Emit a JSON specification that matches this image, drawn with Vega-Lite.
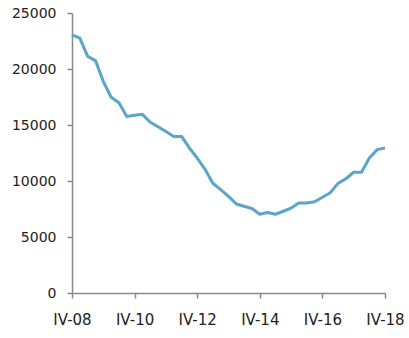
{
  "$schema": "https://vega.github.io/schema/vega-lite/v6.json",
  "width": 313,
  "height": 280,
  "autosize": {"type": "none"},
  "padding": {"left": 72, "top": 13, "right": 24, "bottom": 45},
  "background": "white",
  "config": {"view": {"stroke": null}, "font": "DejaVu Sans"},
  "data": {"values": [
    {"q": "IV-08", "v": 23050}, {"q": "I-09", "v": 22750}, {"q": "II-09", "v": 21130}, {"q": "III-09", "v": 20750},
    {"q": "IV-09", "v": 18900}, {"q": "I-10", "v": 17480}, {"q": "II-10", "v": 16980}, {"q": "III-10", "v": 15750},
    {"q": "IV-10", "v": 15870}, {"q": "I-11", "v": 15950}, {"q": "II-11", "v": 15250}, {"q": "III-11", "v": 14850},
    {"q": "IV-11", "v": 14420}, {"q": "I-12", "v": 13980}, {"q": "II-12", "v": 13980}, {"q": "III-12", "v": 12950},
    {"q": "IV-12", "v": 12050}, {"q": "I-13", "v": 11050}, {"q": "II-13", "v": 9800}, {"q": "III-13", "v": 9230},
    {"q": "IV-13", "v": 8630}, {"q": "I-14", "v": 7950}, {"q": "II-14", "v": 7750}, {"q": "III-14", "v": 7550},
    {"q": "IV-14", "v": 7030}, {"q": "I-15", "v": 7180}, {"q": "II-15", "v": 7030}, {"q": "III-15", "v": 7300},
    {"q": "IV-15", "v": 7580}, {"q": "I-16", "v": 8030}, {"q": "II-16", "v": 8030}, {"q": "III-16", "v": 8150},
    {"q": "IV-16", "v": 8550}, {"q": "I-17", "v": 8950}, {"q": "II-17", "v": 9790}, {"q": "III-17", "v": 10200},
    {"q": "IV-17", "v": 10780}, {"q": "I-18", "v": 10780}, {"q": "II-18", "v": 12050}, {"q": "III-18", "v": 12800},
    {"q": "IV-18", "v": 12950}
  ]},
  "mark": {"type": "line", "color": "#5aa5c8", "strokeWidth": 3, "strokeJoin": "round"},
  "encoding": {
    "x": {
      "field": "q", "type": "ordinal", "sort": null,
      "scale": {"type": "point", "padding": 0},
      "axis": {
        "title": null, "values": ["IV-08", "IV-10", "IV-12", "IV-14", "IV-16", "IV-18"],
        "labelAngle": 0, "labelFontSize": 15, "labelColor": "#222", "labelPadding": 14,
        "domainColor": "#8a8a8a", "domainWidth": 1.5, "tickColor": "#8a8a8a", "tickWidth": 1.5, "tickSize": 5,
        "grid": false
      }
    },
    "y": {
      "field": "v", "type": "quantitative",
      "scale": {"domain": [0, 25000], "nice": false},
      "axis": {
        "title": null, "values": [0, 5000, 10000, 15000, 20000, 25000], "format": "d",
        "labelFontSize": 14, "labelColor": "#222", "labelPadding": 11,
        "domainColor": "#8a8a8a", "domainWidth": 1.5, "tickColor": "#8a8a8a", "tickWidth": 1.5, "tickSize": 5,
        "grid": false
      }
    }
  }
}
